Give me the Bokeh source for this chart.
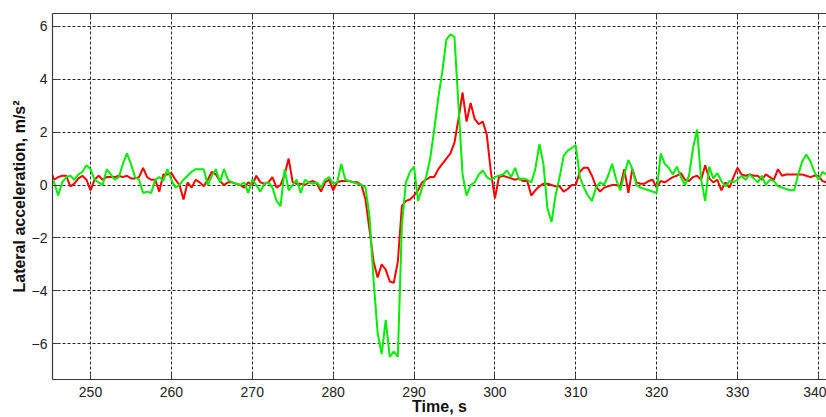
import numpy as np
from bokeh.plotting import figure
from bokeh.models import LinearAxis, FixedTicker, Range1d, ColumnDataSource, CustomLabelingPolicy
from bokeh.embed import file_html
from bokeh.resources import INLINE

# ---- data (sampled every 0.5 s starting at 245.0 s) ----
t_start = 245.0
t_step = 0.5

red = [
    0.6, 0.2, 0.3, 0.35, 0.35, -0.05, 0.05, 0.25, 0.35, 0.2,
    -0.2, 0.2, 0.35, 0.2, 0.3, 0.3, 0.3, 0.35, 0.3, 0.35,
    0.25, 0.25, 0.3, 0.65, 0.3, 0.2, 0.2, -0.25, 0.4, 0.4,
    0.45, 0.2, 0.0, -0.55, 0.1, -0.1, 0.2, 0.1, -0.05, 0.2,
    0.5, 0.4, 0.15, 0.0, 0.1, 0.1, 0.05, 0.0, -0.1, 0.1,
    0.0, 0.35, 0.1, 0.05, 0.1, 0.3, -0.1, 0.0, 0.4, 1.0,
    0.1, 0.05, 0.05, 0.0, 0.1, 0.15, 0.05, -0.25, 0.1, 0.2,
    -0.2, 0.1, 0.15, 0.15, 0.15, 0.1, 0.1, 0.0, -0.55, -1.7,
    -2.9, -3.5, -3.0, -3.2, -3.65, -3.7, -2.9, -0.8, -0.6, -0.55,
    -0.4, -0.2, 0.1, 0.2, 0.3, 0.3, 0.6, 0.8, 1.0, 1.2,
    1.6, 2.5, 3.5, 2.4, 3.1, 2.5, 2.3, 2.4, 1.9, 0.5,
    -0.5, 0.3, 0.35, 0.3, 0.25, 0.2, 0.25, 0.15, 0.15, -0.4,
    -0.2, -0.05, 0.05, 0.05, 0.0, -0.05, -0.05, -0.25, -0.15, 0.0,
    0.0, 0.5, 0.65, 0.65, 0.35, -0.05, -0.25, -0.1, -0.05, 0.0,
    0.0, -0.05, 0.6, -0.3, 0.6, 0.1, 0.05, 0.05, 0.15, 0.2,
    -0.1, 0.15, 0.1, 0.2, 0.3, 0.35, 0.45, 0.2, 0.15, 0.3,
    0.35, 0.2, 0.75, 0.25, 0.1, 0.2, -0.2, 0.1, -0.1, 0.3,
    0.65, 0.4, 0.35, 0.4, 0.35, 0.35, 0.2, 0.4, 0.3, 0.2,
    0.6, 0.35, 0.4, 0.4, 0.4, 0.4, 0.4, 0.35, 0.3, 0.35,
    0.35, 0.15, 0.1,
]

green = [
    0.2, 0.1, -0.4, 0.1, 0.3, 0.35, 0.2, 0.4, 0.5, 0.75,
    0.6, 0.2, 0.1, 0.0, 0.6, 0.4, 0.2, 0.3, 0.8, 1.2,
    0.8, 0.3, 0.2, -0.3, -0.25, -0.3, 0.2, 0.3, 0.15, 0.6,
    0.2, -0.1, 0.0, 0.2, 0.35, 0.5, 0.6, 0.6, 0.6, 0.0,
    0.35, 0.6, 0.1, 0.6, 0.2, 0.1, 0.05, 0.0, 0.1, -0.3,
    0.2, 0.0, -0.25, 0.05, 0.1, -0.1, -0.6, -0.8, 0.6, -0.2,
    0.0, 0.2, -0.3, 0.2, 0.1, 0.05, 0.1, -0.1, 0.2, 0.3,
    0.05, 0.1, 0.8, 0.2, 0.15, 0.1, 0.05, 0.0, -0.1, -1.2,
    -3.6, -5.6, -6.4, -5.1, -6.5, -6.3, -6.5, -1.5, 0.1, 0.5,
    0.7, -0.6, -0.1, 0.3, 1.0, 2.1, 3.3, 4.3, 5.5, 5.7,
    5.6, 3.0, 0.4, -0.4, 0.0, 0.1, 0.4, 0.55, 0.3, 0.2,
    0.3, 0.35, 0.4, 0.55, 0.3, 0.65, 0.2, 0.25, 0.2, 0.1,
    0.6, 1.55, 0.8, -0.9, -1.4, -0.4, 0.3, 1.1, 1.3, 1.4,
    1.5, 0.3, -0.1, -0.4, -0.6, -0.1, 0.1, 0.0, 0.35, 0.8,
    0.2, -0.2, 0.4, 0.95, 0.6, 0.0, -0.1, -0.15, -0.2, -0.25,
    -0.3, 1.2, 0.8, 0.65, 0.4, 0.7, 0.3, 0.0, 0.35, 1.4,
    2.1, 0.2, -0.6, 0.7, 0.25, 0.45, 0.15, -0.05, 0.15, 0.1,
    0.2, 0.35, 0.2, 0.4, 0.25, 0.1, 0.35, 0.0, 0.2, 0.15,
    -0.05, -0.1, -0.15, -0.2, -0.2, 0.4, 0.9, 1.15, 0.9, 0.5,
    0.2, 0.5, 0.4,
]

x_ticks = [250, 260, 270, 280, 290, 300, 310, 320, 330, 340]
y_ticks = [-6, -4, -2, 0, 2, 4, 6]
x_label = "Time, s"
y_label = "Lateral acceleration, m/s\u00b2"

time = t_start + t_step * np.arange(len(red))
src = ColumnDataSource(dict(t=time, red=red, green=green))

FONT = "Liberation Sans"
AX = "#3a3a3a"

p = figure(
    width=826, height=417,
    x_range=Range1d(245.3, 341.0), y_range=Range1d(-7.36, 6.49),
    output_backend="svg", toolbar_location=None,
    min_border_left=52, min_border_right=0, min_border_top=13, min_border_bottom=0,
)
p.outline_line_color = None
p.background_fill_color = "white"
p.border_fill_color = "white"

for ax in (p.xaxis[0], p.yaxis[0]):
    ax.major_tick_in = 5
    ax.major_tick_out = 0
    ax.minor_tick_line_color = None
    ax.axis_line_color = AX
    ax.axis_line_width = 1.2
    ax.major_tick_line_color = AX
    ax.major_label_text_font = FONT
    ax.major_label_text_font_size = "14px"
    ax.major_label_text_color = "#222222"
    ax.axis_label_text_font = FONT
    ax.axis_label_text_font_size = "16px"
    ax.axis_label_text_font_style = "bold"
    ax.axis_label_text_color = "#111111"

p.xaxis.ticker = FixedTicker(ticks=x_ticks)
p.yaxis.ticker = FixedTicker(ticks=y_ticks)
p.xaxis.axis_label = x_label
p.yaxis.axis_label = y_label
p.xaxis.major_label_standoff = 7
p.xaxis.axis_label_standoff = -2
p.yaxis.major_label_standoff = 5
p.yaxis.axis_label_standoff = 1

top = LinearAxis(ticker=FixedTicker(ticks=x_ticks))
top.major_tick_in = 5
top.major_tick_out = 0
top.minor_tick_line_color = None
top.axis_line_color = AX
top.axis_line_width = 1.2
top.major_tick_line_color = AX
top.major_label_text_font_size = "1px"
top.major_label_standoff = 0
top.major_label_policy = CustomLabelingPolicy(code="return new Set()")
p.add_layout(top, "above")

for g in (p.xgrid[0], p.ygrid[0]):
    g.grid_line_color = "#000000"
    g.grid_line_alpha = 0.85
    g.grid_line_dash = "3 2"
    g.grid_line_width = 1
p.xgrid.ticker = FixedTicker(ticks=x_ticks)
p.ygrid.ticker = FixedTicker(ticks=y_ticks)

p.line("t", "red", source=src, line_color="#ff0000", line_width=2)
p.line("t", "green", source=src, line_color="#00ee00", line_width=2)

open("out.html", "w").write(file_html(p, INLINE))
